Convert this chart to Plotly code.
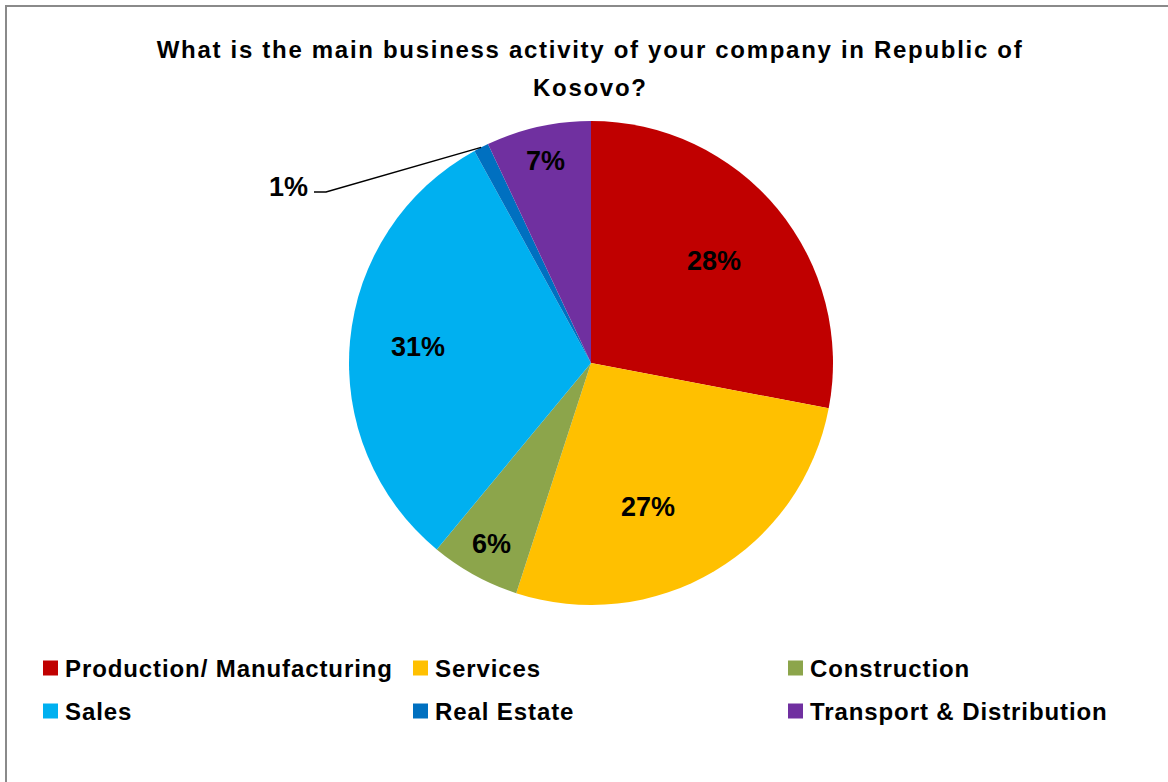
import math
import plotly.graph_objects as go

# Survey answers: main business activity of companies in Kosovo (share in %)
categories = ["Production/ Manufacturing", "Services", "Construction",
              "Sales", "Real Estate", "Transport & Distribution"]
shares = [28, 27, 6, 31, 1, 7]
slice_colors = ["#C00000", "#FFC000", "#8CA54B", "#00B0F0", "#0070C0", "#7030A0"]
title_lines = ["What is the main business activity of your company in Republic of",
               "Kosovo?"]

W, H = 1168, 782
CX, CY, R = 591, 363, 242          # pie centre and radius in pixels
FONT = "Liberation Sans, Arial, sans-serif"

# label placement along each slice: fraction of radius and small angular nudge
label_radius = [0.66, 0.64, 0.855, 0.72, None, 0.855]
label_nudge = [0, 9, 0, 0, 0, 0]


def px(x):
    return x / W


def py(y):
    return 1 - y / H


fig = go.Figure(go.Pie(
    labels=categories,
    values=shares,
    sort=False,
    direction="clockwise",
    rotation=0,
    marker=dict(colors=slice_colors, line=dict(width=0)),
    textinfo="none",
    hovertemplate="%{label}: %{percent}<extra></extra>",
    domain=dict(x=[px(CX - R), px(CX + R)], y=[py(CY + R), py(CY - R)]),
    showlegend=False,
))

annotations = []
shapes = []
title_idx = []
legend_idx = []

# percentage labels, positioned from the cumulative slice angles
total = sum(shares)
cum = 0
for i, v in enumerate(shares):
    mid = (cum + v / 2) / total * 360.0
    cum += v
    text = f"{round(v / total * 100)}%"
    if label_radius[i] is None:
        # small slice: label outside with a leader line
        a = math.radians(mid)
        ex, ey = CX + R * math.sin(a), CY - R * math.cos(a)
        elbow_x, elbow_y, end_x = 326, 192, 314
        shapes.append(dict(type="path", xref="paper", yref="paper",
                           path=f"M {px(ex)},{py(ey)} L {px(elbow_x)},{py(elbow_y)} L {px(end_x)},{py(elbow_y)}",
                           line=dict(color="black", width=1.5)))
        annotations.append(dict(text=text, x=px(end_x - 4), y=py(elbow_y - 5),
                                xref="paper", yref="paper", xanchor="right", yanchor="middle",
                                showarrow=False, font=dict(family=FONT, size=27, color="black",
                                                           weight="bold")))
        continue
    a = math.radians(mid + label_nudge[i])
    r = label_radius[i] * R
    lx, ly = CX + r * math.sin(a), CY - r * math.cos(a)
    annotations.append(dict(text=text, x=px(lx), y=py(ly), xref="paper", yref="paper",
                            xanchor="center", yanchor="middle", showarrow=False,
                            font=dict(family=FONT, size=27, color="black", weight="bold")))

# title, two centred lines
for line, y in zip(title_lines, [50, 88]):
    title_idx.append(len(annotations))
    annotations.append(dict(text=line, x=px(590), y=py(y), xref="paper", yref="paper",
                            xanchor="center", yanchor="middle", showarrow=False,
                            font=dict(family=FONT, size=24, color="black", weight="bold")))

# legend: three columns, two rows of coloured squares with labels
col_x = [43, 413, 788]
row_y = [668, 711]
sq = 15
for i, (name, col) in enumerate(zip(categories, slice_colors)):
    x0 = col_x[i % 3]
    yc = row_y[i // 3]
    shapes.append(dict(type="rect", xref="paper", yref="paper",
                       x0=px(x0), x1=px(x0 + sq), y0=py(yc + sq / 2), y1=py(yc - sq / 2),
                       fillcolor=col, line=dict(width=0)))
    legend_idx.append(len(annotations))
    annotations.append(dict(text=name, x=px(x0 + sq + 5), y=py(yc), xref="paper", yref="paper",
                            xanchor="left", yanchor="middle", align="left", showarrow=False,
                            font=dict(family=FONT, size=24, color="black", weight="bold")))

# outer chart frame
shapes.append(dict(type="rect", xref="paper", yref="paper",
                   x0=px(6), x1=px(W + 10), y0=py(H + 10), y1=py(6),
                   line=dict(color="#8A8A8A", width=2), fillcolor="rgba(0,0,0,0)"))

fig.update_layout(
    width=W, height=H,
    margin=dict(l=0, r=0, t=0, b=0),
    paper_bgcolor="white",
    plot_bgcolor="white",
    annotations=annotations,
    shapes=shapes,
)

# slightly wider character tracking for the title and legend texts
sel_title = ", ".join(f'.annotation[data-index="{k}"] text' for k in title_idx)
sel_legend = ", ".join(f'.annotation[data-index="{k}"] text' for k in legend_idx)
css = f"{sel_title} {{ letter-spacing: 1.7px; }} {sel_legend} {{ letter-spacing: 0.9px; }}"
post_script = (
    "var st = document.createElement('style');"
    f"st.textContent = {css!r};"
    "document.head.appendChild(st);"
)

fig.write_html("out.html", post_script=post_script)
